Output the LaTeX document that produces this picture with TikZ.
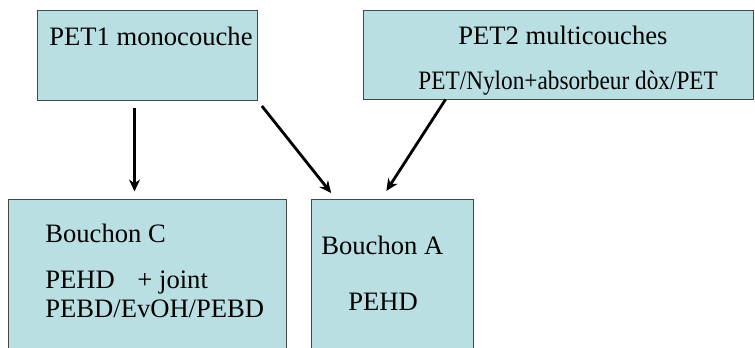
\documentclass[tikz,border=0pt]{standalone}
\usepackage{fontspec}
\setmainfont{Liberation Serif}
\usepackage{xcolor}
\usetikzlibrary{calc,arrows.meta,positioning}
\definecolor{boxCyan}{RGB}{186,223,227}
\definecolor{boxEdge}{RGB}{70,70,70}
\tikzset{
  bloc/.style={draw=boxEdge, fill=boxCyan, line width=0.5pt, rectangle, inner sep=0pt},
  lbl/.style={anchor=base west, inner sep=0pt, font=\fontsize{13.3}{16}\selectfont},
  fleche/.style={-{Stealth[length=6pt,width=5.5pt]}, line width=1.4pt}
}
\begin{document}
\begin{tikzpicture}[x=0.5pt,y=-0.5pt]
\useasboundingbox (0,0) rectangle (755,348);
% boites
\node[bloc, minimum width=110pt, minimum height=45pt] (pet1) at (147,55) {};
\node[bloc, minimum width=195pt, minimum height=44.5pt] (pet2) at (558,54.5) {};
\node[bloc, minimum width=139pt, minimum height=90pt] (bouC) at (147,289) {};
\node[bloc, minimum width=81pt, minimum height=90pt] (bouA) at (392,289) {};
% textes
\node[lbl] (t1) at (49,45) {PET1 monocouche};
\node[lbl] (t2) at (458,44) {PET2 multicouches};
\node[lbl] (t3) at (418,89) {\scalebox{0.875}[1]{PET/Nylon+absorbeur dòx/PET}};
\node[lbl] (t4) at (45,242) {Bouchon C};
\node[lbl] (t5) at (45,288) {PEHD\hspace{0.85em}+ joint};
\node[lbl] (t6) at (45,317) {PEBD/EvOH/PEBD};
\node[lbl] (t7) at (321,254) {Bouchon A};
\node[lbl] (t8) at (348,310) {PEHD};
% fleches
\draw[fleche, shorten <=3.5pt, shorten >=3.5pt] ($(pet1.south west)+(98,0)$) -- ($(bouC.north west)+(127,0)$);
\draw[fleche, shorten <=3.5pt, shorten >=3.5pt] (pet1.south east) -- ($(bouA.north west)+(25,0)$);
\draw[fleche, shorten >=4.5pt] ($(pet2.south west)+(83,0)$) -- ($(bouA.north west)+(71,0)$);
\end{tikzpicture}
\end{document}
